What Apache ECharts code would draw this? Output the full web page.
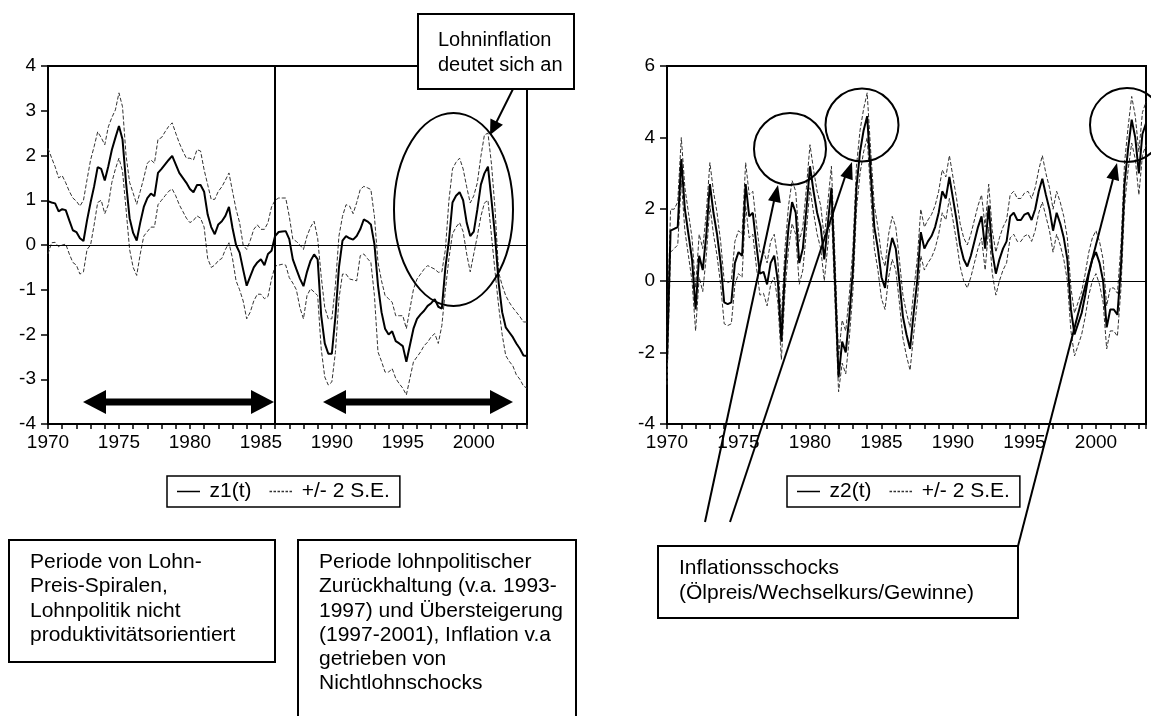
<!DOCTYPE html>
<html>
<head>
<meta charset="utf-8">
<script src="https://cdn.jsdelivr.net/npm/echarts@6/dist/echarts.min.js"></script>
<style>
html, body { margin: 0; padding: 0; background: #fff; }
#main { width: 1151px; height: 716px; }
</style>
</head>
<body>
<div id="main"></div>
<script>
// quarterly values, first point = 1970Q1
var startYear = 1970;

var z1 = [
  0.98, 0.95, 0.93, 0.75,  0.80, 0.78, 0.55, 0.33,  0.29, 0.15, 0.09, 0.55,
  0.95, 1.31, 1.74, 1.70,  1.44, 1.76, 2.13, 2.40,  2.66, 2.36, 1.39, 0.60,
  0.27, 0.10, 0.50, 0.85,  1.05, 1.15, 1.09, 1.61,  1.70, 1.80, 1.90, 1.99,
  1.80, 1.61, 1.50, 1.39,  1.25, 1.18, 1.34, 1.34,  1.19, 0.68, 0.40, 0.24,
  0.46, 0.53, 0.65, 0.85,  0.38, 0.00, -0.17, -0.55, -0.91, -0.70, -0.50, -0.39,
  -0.32, -0.45, -0.20, -0.13, 0.20, 0.29, 0.30, 0.31, 0.13, -0.32, -0.54, -0.75,
  -0.92, -0.60, -0.35, -0.21, -0.32, -1.58, -2.20, -2.43, -2.43, -1.60, -0.50, 0.10,
  0.20, 0.15, 0.12, 0.20,  0.35, 0.57, 0.53, 0.46,  0.02, -0.90, -1.50, -1.87,
  -2.00, -1.93, -2.15, -2.20, -2.26, -2.61, -2.24, -1.87, -1.65, -1.55, -1.47, -1.36,
  -1.30, -1.21, -1.38, -1.42, -0.50, 0.10, 0.95, 1.10,  1.18, 1.00, 0.50, 0.20,
  0.30, 0.79, 1.35, 1.60,  1.75, 1.00, 0.20, -0.84, -1.50, -1.84, -1.95, -2.06,
  -2.20, -2.32, -2.47, -2.48
];
var z1Upper = [
  2.16, 1.95, 1.75, 1.50,  1.55, 1.39, 1.20, 1.05,  0.98, 0.87, 1.00, 1.46,
  1.90, 2.20, 2.53, 2.40,  2.24, 2.64, 2.85, 3.02,  3.40, 3.09, 2.00, 1.40,
  1.16, 0.91, 1.20, 1.50,  1.83, 1.90, 1.83, 2.36,  2.40, 2.53, 2.65, 2.73,
  2.50, 2.28, 2.10, 1.94,  1.94, 1.90, 2.13, 2.10,  1.68, 1.35, 1.02, 1.02,
  1.20, 1.30, 1.45, 1.61,  1.20, 0.80, 0.50, 0.00,  -0.10, 0.10, 0.35, 0.45,
  0.35, 0.35, 0.50, 0.85,  1.00, 1.05, 1.05, 1.05,  0.64, 0.13, 0.08, 0.00,
  -0.10, 0.20, 0.40, 0.53,  0.15, -0.70, -1.40, -1.65, -1.65, -0.90, 0.20, 0.64,
  0.90, 0.87, 0.70, 0.95,  1.24, 1.31, 1.28, 1.24,  0.64, -0.39, -0.80, -1.13,
  -1.20, -1.28, -1.58, -1.58, -1.58, -1.87, -1.43, -0.99, -0.76, -0.65, -0.54, -0.46,
  -0.50, -0.54, -0.61, -0.60, -0.10, 1.00, 1.70, 1.85,  1.94, 1.70, 1.30, 0.94,
  1.10, 1.39, 1.98, 2.46,  2.50, 1.80, 0.80, -0.61,  -0.90, -1.13, -1.28, -1.40,
  -1.50, -1.60, -1.72, -1.72
];
var z1Lower = [
  -0.20, 0.05, 0.06, -0.04, 0.00, 0.02, -0.20, -0.39, -0.45, -0.65, -0.60, -0.10,
  0.00, 0.45, 0.95, 1.00,  0.70, 0.90, 1.40, 1.70,  1.94, 1.65, 0.80, -0.10,
  -0.50, -0.68, -0.20, 0.20, 0.30, 0.40, 0.40, 0.90,  1.00, 1.10, 1.20, 1.25,
  1.10, 0.90, 0.75, 0.60,  0.50, 0.55, 0.65, 0.60,  0.40, -0.30, -0.50, -0.45,
  -0.35, -0.30, -0.10, 0.05, -0.30, -0.80, -1.00, -1.25, -1.65, -1.50, -1.25, -1.10,
  -1.10, -1.20, -1.15, -0.76, -0.47, -0.45, -0.43, -0.45, -0.73, -0.85, -1.00, -1.40,
  -1.65, -1.13, -0.98, -1.05, -1.13, -2.32, -2.95, -3.13, -3.06, -2.40, -1.20, -0.65,
  -0.65, -0.76, -0.78, -0.80, -0.24, -0.20, -0.30, -0.39, -1.13, -2.39, -2.60, -2.84,
  -2.84, -2.76, -2.98, -3.10, -3.20, -3.35, -2.98, -2.61, -2.50, -2.39, -2.25, -2.17,
  -2.05, -1.98, -2.20, -1.80, -1.00, -0.30, 0.25, 0.40,  0.50, 0.30, -0.20, -0.60,
  -0.20, 0.20, 0.64, 0.94,  1.00, 0.20, -0.60, -1.36, -2.00, -2.47, -2.60, -2.70,
  -2.90, -3.00, -3.15, -3.20
];

var z2 = [
  -2.2, 1.4, 1.45, 1.5,  3.4, 2.0, 1.3, 0.6,  -0.8, 0.7, 0.3, 1.3,
  2.7, 1.9, 1.3, 0.5,  -0.6, -0.65, -0.6, 0.5,  0.8, 0.7, 2.7, 1.8,
  1.9, 1.0, 0.2, 0.25,  -0.1, 0.5, 0.7, 0.0,  -1.7, 0.3, 1.5, 2.2,
  1.9, 0.5, 0.9, 2.0,  3.2, 2.5, 1.9, 1.5,  0.6, 1.6, 2.6, 0.0,
  -2.7, -1.7, -2.0, -1.0,  0.3, 2.6, 3.6, 4.2,  4.6, 3.0, 1.5, 0.9,
  0.1, -0.2, 0.7, 1.2,  0.9, 0.0, -1.0, -1.5,  -1.9, -0.9, 0.0, 1.36,
  0.9, 1.1, 1.25, 1.5,  1.9, 2.5, 2.3, 2.9,  2.3, 1.7, 1.0, 0.6,
  0.4, 0.7, 1.1, 1.5,  1.8, 0.9, 2.1, 0.8,  0.2, 0.6, 0.9, 1.1,
  1.8, 1.9, 1.7, 1.7,  1.85, 1.9, 1.7, 2.0,  2.5, 2.85, 2.4, 2.0,
  1.4, 1.9, 1.6, 1.2,  0.6, -0.8, -1.5, -1.2,  -0.9, -0.4, 0.2, 0.6,
  0.8, 0.5, 0.0, -1.3,  -0.8, -0.8, -0.95, 0.4,  2.7, 3.7, 4.5, 4.0,
  3.0, 4.1, 4.4
];
var z2Upper = [
  -1.5, 2.0, 2.0, 2.2,  4.0, 2.6, 1.9, 1.2,  -0.2, 1.3, 0.9, 1.9,
  3.3, 2.5, 1.9, 1.1,  0.0, -0.05, 0.0, 1.1,  1.4, 1.3, 3.3, 2.4,
  2.5, 1.6, 0.8, 0.85,  0.5, 1.1, 1.3, 0.6,  -1.1, 0.9, 2.1, 2.8,
  2.5, 1.1, 1.5, 2.6,  3.8, 3.1, 2.5, 2.1,  1.2, 2.2, 3.2, 0.6,
  -2.1, -1.1, -1.4, -0.4,  0.9, 3.2, 4.2, 4.8,  5.25, 3.6, 2.1, 1.5,
  0.7, 0.4, 1.3, 1.8,  1.5, 0.6, -0.4, -0.9,  -1.3, -0.3, 0.6, 2.0,
  1.5, 1.7, 1.85, 2.1,  2.5, 3.1, 2.9, 3.5,  2.9, 2.3, 1.6, 1.2,
  1.0, 1.3, 1.7, 2.1,  2.4, 1.5, 2.7, 1.4,  0.8, 1.2, 1.5, 1.7,
  2.4, 2.5, 2.3, 2.3,  2.45, 2.5, 2.3, 2.6,  3.1, 3.5, 3.0, 2.6,
  2.0, 2.5, 2.2, 1.8,  1.2, -0.2, -0.9, -0.6,  -0.3, 0.2, 0.8, 1.2,
  1.4, 1.1, 0.6, -0.7,  -0.2, -0.2, -0.35, 1.0,  3.3, 4.3, 5.15, 4.6,
  3.6, 4.7, 5.0
];
var z2Lower = [
  -2.9, 0.8, 0.9, 1.0,  2.8, 1.4, 0.7, 0.0,  -1.4, 0.1, -0.3, 0.7,
  2.1, 1.3, 0.7, -0.1,  -1.2, -1.25, -1.2, -0.1,  0.2, 0.1, 2.1, 1.2,
  1.3, 0.4, -0.4, -0.35,  -0.7, -0.1, 0.1, -0.6,  -2.2, -0.3, 0.9, 1.6,
  1.3, -0.1, 0.3, 1.4,  2.6, 1.9, 1.3, 0.9,  0.0, 1.0, 2.0, -0.6,
  -3.1, -2.3, -2.6, -1.6,  -0.3, 2.0, 3.0, 3.6,  4.0, 2.4, 0.9, 0.3,
  -0.5, -0.8, 0.1, 0.6,  0.3, -0.6, -1.6, -2.1,  -2.5, -1.5, -0.6, 0.7,
  0.3, 0.5, 0.65, 0.9,  1.3, 1.9, 1.7, 2.3,  1.7, 1.1, 0.4, 0.0,
  -0.2, 0.1, 0.5, 0.9,  1.2, 0.3, 1.5, 0.2,  -0.4, 0.0, 0.3, 0.5,
  1.2, 1.3, 1.1, 1.1,  1.25, 1.3, 1.1, 1.4,  1.9, 2.2, 1.8, 1.4,
  0.8, 1.3, 1.0, 0.6,  0.0, -1.4, -2.1, -1.8,  -1.5, -1.0, -0.4, 0.0,
  0.2, -0.1, -0.6, -1.9,  -1.4, -1.4, -1.55, -0.2,  2.1, 3.1, 3.85, 3.4,
  2.4, 3.5, 3.8
];

var xLabelStep = 5;
var FONT = '"Liberation Sans", Arial, sans-serif';

function toPairs(arr) {
  return arr.map(function (v, i) { return [startYear + i / 4, v]; });
}

function head(tx, ty, fx, fy, len, half) {
  var dx = tx - fx, dy = ty - fy, d = Math.sqrt(dx * dx + dy * dy);
  var ux = dx / d, uy = dy / d;
  var bx = tx - ux * len, by = ty - uy * len;
  return {
    type: 'polygon', z: 100,
    shape: { points: [[tx, ty], [bx - uy * half, by + ux * half], [bx + uy * half, by - ux * half]] },
    style: { fill: '#000' }
  };
}
function seg(x1, y1, x2, y2, w) {
  return { type: 'line', z: 100, shape: { x1: x1, y1: y1, x2: x2, y2: y2 }, style: { stroke: '#000', lineWidth: w || 2 } };
}
function box(x, y, w, h) {
  return { type: 'rect', z: 99, shape: { x: x, y: y, width: w, height: h }, style: { fill: '#fff', stroke: '#000', lineWidth: 2 } };
}
function txt(x, y, s, lh, size) {
  return { type: 'text', z: 101, x: x, y: y, style: { text: s, font: (size || 21) + 'px ' + FONT, fill: '#000', lineHeight: lh || 24.5, verticalAlign: 'top' } };
}
function ring(cx, cy, r) {
  return { type: 'circle', z: 100, shape: { cx: cx, cy: cy, r: r }, style: { fill: 'none', stroke: '#000', lineWidth: 2 } };
}

function xAxisCfg(idx, max) {
  return {
    type: 'value', gridIndex: idx, min: 1970, max: max, interval: 1,
    axisLine: { show: true, onZero: false, lineStyle: { color: '#000', width: 2 } },
    axisTick: { show: true, inside: false, length: 5, lineStyle: { color: '#000', width: 1.5 } },
    axisLabel: {
      color: '#000', fontSize: 19, fontFamily: FONT, margin: 9,
      formatter: function (v) { return (v % xLabelStep === 0) ? String(v) : ''; }
    },
    splitLine: { show: false }
  };
}
function yAxisCfg(idx, min, max, step) {
  return {
    type: 'value', gridIndex: idx, min: min, max: max, interval: step,
    axisLine: { show: true, onZero: false, lineStyle: { color: '#000', width: 2 } },
    axisTick: { show: true, inside: false, length: 7, lineStyle: { color: '#000', width: 1.5 } },
    axisLabel: { color: '#000', fontSize: 19, fontFamily: FONT, margin: 12 },
    splitLine: { show: false }
  };
}

var solidStyle = { color: '#000', width: 2 };
var dashStyle = { color: '#333', width: 1, type: [4, 2] };

function bandSeries(idx, arr) {
  return {
    name: '+/- 2 S.E.', type: 'line', xAxisIndex: idx, yAxisIndex: idx,
    data: toPairs(arr), symbol: 'none', color: '#333', lineStyle: dashStyle, silent: true
  };
}
function zeroLine(extra) {
  var data = [{ yAxis: 0, lineStyle: { color: '#000', width: 1.2, type: 'solid' } }];
  if (extra) data.push(extra);
  return { silent: true, symbol: 'none', label: { show: false }, data: data };
}

// legend icons: a plain line and a dashed line
var ICON_SOLID = 'path://M0,0H23V1.5H0Z';
var ICON_DASH = 'path://M0,0H2.5V1.5H0Z M4,0H6.5V1.5H4Z M8,0H10.5V1.5H8Z M12,0H14.5V1.5H12Z M16,0H18.5V1.5H16Z M20,0H22.5V1.5H20Z';

var legendBase = {
  orient: 'horizontal', top: 476, itemWidth: 24, itemHeight: 1.5, itemGap: 18,
  padding: [5, 10, 5, 10], borderColor: '#000', borderWidth: 1.5, backgroundColor: '#fff',
  selectedMode: false,
  textStyle: { color: '#000', fontSize: 21, fontFamily: FONT, padding: [0, 0, 0, 4] }
};

var chart = echarts.init(document.getElementById('main'), null, { renderer: 'canvas' });

chart.setOption({
  animation: false,
  backgroundColor: '#fff',
  grid: [
    { left: 48, top: 66, width: 479, height: 358, show: true, borderColor: '#000', borderWidth: 2, backgroundColor: 'transparent' },
    { left: 667, top: 66, width: 479, height: 358, show: true, borderColor: '#000', borderWidth: 2, backgroundColor: 'transparent' }
  ],
  xAxis: [xAxisCfg(0, 2003.75), xAxisCfg(1, 2003.5)],
  yAxis: [yAxisCfg(0, -4, 4, 1), yAxisCfg(1, -4, 6, 2)],
  legend: [
    Object.assign({}, legendBase, { left: 167, data: [{ name: 'z1(t)', icon: ICON_SOLID }, { name: '+/- 2 S.E.', icon: ICON_DASH }] }),
    Object.assign({}, legendBase, { left: 787, data: [{ name: 'z2(t)', icon: ICON_SOLID }, { name: '+/- 2 S.E.', icon: ICON_DASH }] })
  ],
  series: [
    bandSeries(0, z1Upper),
    bandSeries(0, z1Lower),
    {
      name: 'z1(t)', type: 'line', xAxisIndex: 0, yAxisIndex: 0, data: toPairs(z1),
      symbol: 'none', color: '#000', lineStyle: solidStyle, z: 3,
      markLine: zeroLine({ xAxis: 1986, lineStyle: { color: '#000', width: 2, type: 'solid' } })
    },
    bandSeries(1, z2Upper),
    bandSeries(1, z2Lower),
    {
      name: 'z2(t)', type: 'line', xAxisIndex: 1, yAxisIndex: 1, data: toPairs(z2),
      symbol: 'none', color: '#000', lineStyle: solidStyle, z: 3,
      markLine: zeroLine(null)
    }
  ],
  graphic: { elements: [
    // left panel annotations
    { type: 'ellipse', z: 100, shape: { cx: 453.5, cy: 209.5, rx: 59.5, ry: 96.5 }, style: { fill: 'none', stroke: '#000', lineWidth: 2 } },
    box(418, 14, 156, 75),
    txt(438, 28, 'Lohninflation\ndeutet sich an', 25, 20),
    seg(513, 89, 496, 123),
    head(490, 135, 513, 89, 15, 7),
    seg(104, 402, 253, 402, 7),
    head(83, 402, 274, 402, 23, 12),
    head(274, 402, 83, 402, 23, 12),
    seg(344, 402, 492, 402, 7),
    head(323, 402, 513, 402, 23, 12),
    head(513, 402, 323, 402, 23, 12),
    // right panel annotations
    ring(790, 149, 36),
    ring(862, 125, 36.5),
    ring(1127, 125, 37),
    seg(705, 522, 774, 201),
    head(778, 185, 705, 522, 17, 6.5),
    seg(730, 522, 845, 177),
    head(852, 162, 730, 522, 17, 6.5),
    seg(1018, 546, 1113, 179),
    head(1117, 163, 1018, 546, 17, 6.5),
    // text boxes
    box(9, 540, 266, 122),
    txt(30, 550, 'Periode von Lohn-\nPreis-Spiralen,\nLohnpolitik nicht\nproduktivitätsorientiert', 24.3),
    box(298, 540, 278, 200),
    txt(319, 550, 'Periode lohnpolitischer\nZurückhaltung (v.a. 1993-\n1997) und Übersteigerung\n(1997-2001), Inflation v.a\ngetrieben von\nNichtlohnschocks', 24.3),
    box(658, 546, 360, 72),
    txt(679, 556, 'Inflationsschocks\n(Ölpreis/Wechselkurs/Gewinne)', 25)
  ] }
});
</script>
</body>
</html>
